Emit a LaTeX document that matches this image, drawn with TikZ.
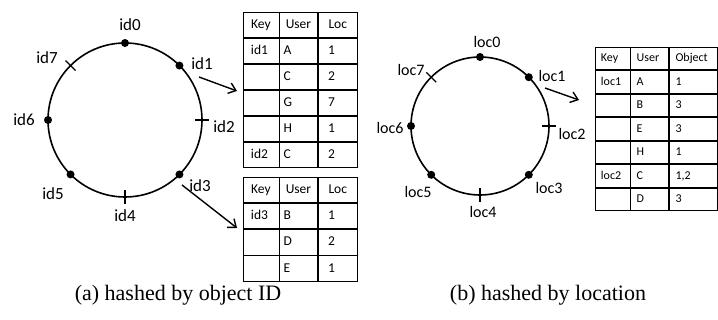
\documentclass[tikz,border=0pt]{standalone}
\usepackage{fontspec}
\setmainfont{Carlito}
\newfontfamily\capfont{Liberation Serif}
\usetikzlibrary{arrows.meta, positioning, matrix}

\begin{document}
\begin{tikzpicture}[
    x=1pt, y=-1pt,
    ring/.style={draw, circle, line width=1.6pt, inner sep=0pt, outer sep=0pt},
    dot/.style={circle, fill, inner sep=0pt, minimum size=8pt},
    ringtick/.style={line width=1.3pt},
    lbl/.style={font=\fontsize{17}{17}\selectfont, inner sep=0pt},
    arr/.style={-{Straight Barb[length=7pt, width=11pt]}, line width=1.4pt},
    tbl/.style={matrix of nodes, nodes in empty cells, column sep=0pt, row sep=0pt,
        nodes={draw, line width=0.8pt, outer sep=0pt, inner ysep=0pt,
            text height=10pt, text depth=3pt, align=left, anchor=center}},
    captxt/.style={font=\capfont\fontsize{22}{22}\selectfont, inner sep=0pt}
]
\useasboundingbox (0,0) rectangle (718,320);

\node[ring, minimum size=154pt] (ringA) at (125,120) {};
\foreach \a/\n in {90/0, 45/1, -45/3, -135/5, 180/6}
    \node[dot] (a\n) at (ringA.\a) {};
\foreach \a in {0, -90, 135}
    \draw[ringtick] ([shift={(\a:-7pt)}]ringA.\a) -- ([shift={(\a:7pt)}]ringA.\a);
\foreach \n/\x/\y in {0/130/25, 1/202/64, 2/224/127, 3/200/186, 4/125/216, 5/53/194, 6/24/120, 7/47/58}
    \node[lbl] (la\n) at (\x,\y) {id\n};

\matrix[tbl, anchor=north west, font=\fontsize{13.5}{13.5}\selectfont,
    nodes={minimum height=25.2pt},
    column 1/.style={nodes={inner xsep=8pt, text width=20pt}},
    column 2/.style={nodes={inner xsep=4pt, text width=29.5pt}},
    column 3/.style={nodes={inner xsep=10pt, text width=19.5pt}},
    row 1/.style={nodes={align=center}}] (t1) at (239,8) {
Key & User & Loc \\
id1 & A & 1 \\
    & C & 2 \\
    & G & 7 \\
    & H & 1 \\
id2 & C & 2 \\
};

\matrix[tbl, anchor=north west, font=\fontsize{13.5}{13.5}\selectfont,
    nodes={minimum height=25.5pt},
    column 1/.style={nodes={inner xsep=8pt, text width=20pt}},
    column 2/.style={nodes={inner xsep=4pt, text width=29.5pt}},
    column 3/.style={nodes={inner xsep=10pt, text width=19.5pt}},
    row 1/.style={nodes={align=center}}] (t2) at (239,173) {
Key & User & Loc \\
id3 & B & 1 \\
    & D & 2 \\
    & E & 1 \\
};

\coordinate (s1) at (199,77);
\coordinate (e1) at (237,91);
\coordinate (s2) at (182,185);
\coordinate (e2) at (237,228);
\draw[arr] (s1) -- (e1);
\draw[arr] (s2) -- (e2);

\node[ring, minimum size=138pt] (ringB) at (480,126) {};
\foreach \a/\n in {90/0, 45/1, -45/3, -135/5, 180/6}
    \node[dot] (b\n) at (ringB.\a) {};
\foreach \a in {0, -90, 135}
    \draw[ringtick] ([shift={(\a:-7pt)}]ringB.\a) -- ([shift={(\a:7pt)}]ringB.\a);
\foreach \n/\x/\y in {0/487/42, 1/552/76, 2/572/134, 3/549/188, 4/483/212, 5/418/192, 6/390/128, 7/411/70}
    \node[lbl, font=\fontsize{16}{16}\selectfont] (lb\n) at (\x,\y) {loc\n};

\matrix[tbl, anchor=north west, font=\fontsize{12}{12}\selectfont,
    nodes={minimum height=22.7pt, inner xsep=6pt},
    column 1/.style={nodes={text width=23pt}},
    column 2/.style={nodes={text width=26pt}},
    column 3/.style={nodes={text width=36pt}}] (t3) at (591,43) {
Key & User & Object \\
loc1 & A & 1 \\
     & B & 3 \\
     & E & 3 \\
     & H & 1 \\
loc2 & C & 1,2 \\
     & D & 3 \\
};

\coordinate (s3) at (545,88);
\coordinate (e3) at (579,100);
\draw[arr] (s3) -- (e3);

\node[captxt] (capa) at (178,295) {(a) hashed by object ID};
\node[captxt] (capb) at (548,295) {(b) hashed by location};
\end{tikzpicture}
\end{document}
